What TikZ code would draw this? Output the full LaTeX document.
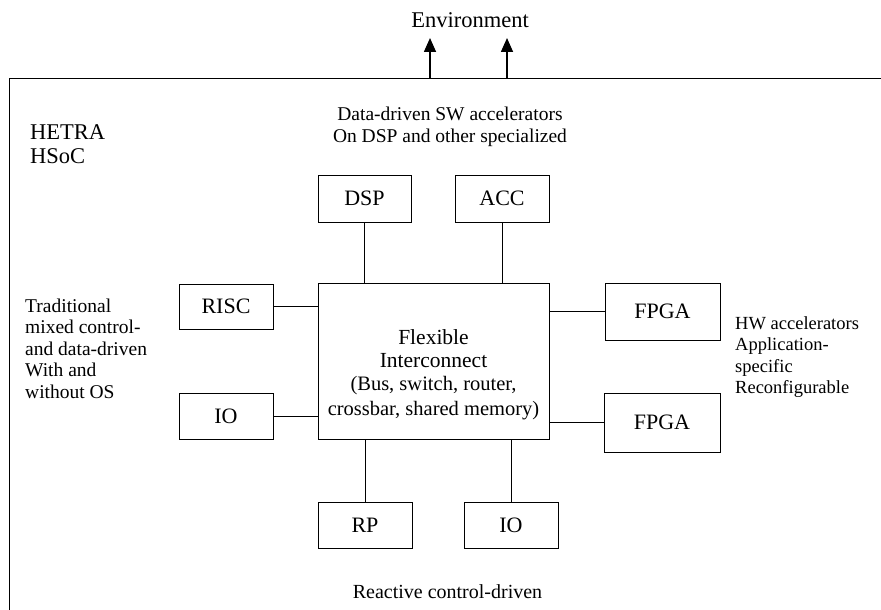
\documentclass[tikz,border=0pt]{standalone}
\usepackage{fontspec}
\setmainfont{Liberation Serif}
\usetikzlibrary{arrows.meta}
\newcommand\dfont{\fontsize{19.5}{21.5}\selectfont}
\newcommand\boxfont{\fontsize{22}{24}\selectfont}
\newcommand\bigfont{\fontsize{22.5}{24}\selectfont}
\begin{document}
\begin{tikzpicture}[x=1pt,y=-1pt,
  every node/.style={font=\dfont,inner sep=0pt},
  block/.style={draw,line width=0.9pt,font=\boxfont},
  link/.style={line width=0.9pt},
  frame/.style={line width=1pt},
  outarrow/.style={line width=1.6pt,-{Triangle[length=14pt,width=12pt]}},
  label/.style={align=left,anchor=west}
]
\useasboundingbox (0,0) rectangle (881,610);

% chip boundary (open to the right and bottom)
\coordinate (fr) at (881,79);
\coordinate (fc) at (9,79);
\coordinate (fb) at (9,610);
\draw[frame] (fr) -- (fc) -- (fb);

% outputs to the environment
\node[font=\bigfont] (env) at (470,20) {Environment};
\coordinate (a1b) at (430,79);
\coordinate (a1t) at (430,38);
\coordinate (a2b) at (507,79);
\coordinate (a2t) at (507,38);
\draw[outarrow] (a1b) -- (a1t);
\draw[outarrow] (a2b) -- (a2t);

% central interconnect
\node[block,minimum width=231,minimum height=156] (fi) at (433.5,361) {};
\node[align=center,font=\fontsize{21.5}{23}\selectfont] (fititle) at (433.5,348.5)
  {Flexible\\Interconnect};
\node[align=center,font=\fontsize{20.5}{24.5}\selectfont] (fisub) at (433.5,398)
  {(Bus, switch, router,\\crossbar, shared memory)};

% processing elements
\node[block,minimum width=93,minimum height=47] (dsp) at (364.5,198.5) {DSP};
\node[block,minimum width=94,minimum height=47] (acc) at (502,198.5) {ACC};
\node[block,minimum width=94,minimum height=45] (risc) at (226,306.5) {RISC};
\node[block,minimum width=94,minimum height=46] (iol) at (226,416) {IO};
\node[block,minimum width=115,minimum height=57] (fpga1) at (662.5,311.5) {FPGA};
\node[block,minimum width=116,minimum height=59] (fpga2) at (662,422.5) {FPGA};
\node[block,minimum width=94,minimum height=46] (rp) at (365,525) {RP};
\node[block,minimum width=94,minimum height=46] (iob) at (511,525) {IO};

% links to the interconnect
\draw[link] (dsp.south) -- (dsp.south |- fi.north);
\draw[link] (acc.south) -- (acc.south |- fi.north);
\draw[link] (risc.east) -- (risc.east -| fi.west);
\draw[link] (iol.east) -- (iol.east -| fi.west);
\draw[link] (fpga1.west) -- (fpga1.west -| fi.east);
\draw[link] (fpga2.west) -- (fpga2.west -| fi.east);
\draw[link] (rp.north) -- (rp.north |- fi.south);
\draw[link] (iob.north) -- (iob.north |- fi.south);

% annotations
\node[align=center] (sw) at (450,127) {Data-driven SW accelerators\\On DSP and other specialized};
\node[label,font=\bigfont] (hetra) at (30,144.5) {HETRA\\HSoC};
\node[label] (trad) at (25,348.5) {Traditional\\mixed control-\\and data-driven\\With and\\without OS};
\node[label,font=\fontsize{18.5}{21.5}\selectfont] (hw) at (735,357) {HW accelerators\\Application-\\specific\\Reconfigurable};
\node[font=\fontsize{20}{22}\selectfont] (react) at (447.5,592) {Reactive control-driven};
\end{tikzpicture}
\end{document}
